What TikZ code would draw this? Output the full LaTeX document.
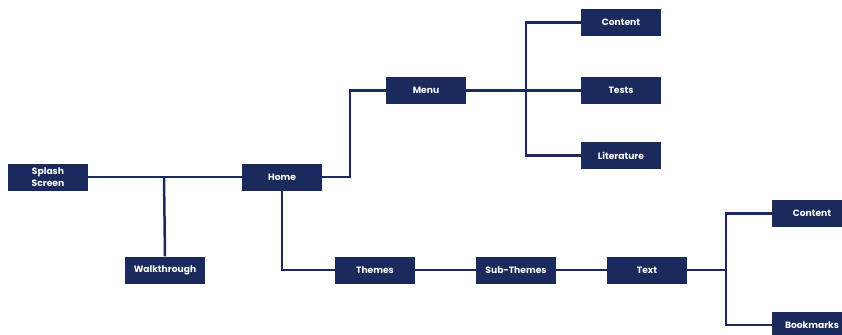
\documentclass[tikz,border=0pt]{standalone}
\usepackage{fontspec}
\setmainfont{Poppins}
\definecolor{navy}{HTML}{1B2A5C}
\begin{document}
\begin{tikzpicture}[x=1bp,y=-1bp,
  box/.style={fill=navy,draw=none,minimum width=80bp,minimum height=27bp,inner sep=0pt,
    text=white,font=\fontsize{9.2}{12.5}\selectfont\bfseries,align=center},
  link/.style={draw=navy,line width=2.5bp}]
\useasboundingbox (0,0) rectangle (842,334);
\clip (0,0) rectangle (842,334);
\node[box] (splash) at (48,177) {Splash\\Screen};
\node[box] (home) at (282,177) {Home};
\node[box] (walk) at (165,270) {Walkthrough};
\node[box] (menu) at (426,90.5) {Menu};
\node[box] (content) at (621,22.5) {Content};
\node[box] (tests) at (621,90.5) {Tests};
\node[box] (lit) at (621,155.5) {Literature};
\node[box] (themes) at (375,270) {Themes};
\node[box] (sub) at (516,270) {Sub-Themes};
\node[box] (text) at (647,270) {Text};
\node[box] (content2) at (812,213.5) {Content};
\node[box] (book) at (812,325) {Bookmarks};
\coordinate (j1) at (164,177);
\coordinate (j2) at (526,90.5);
\coordinate (j3) at (726,270);
\coordinate (j4) at (350,177);
\draw[link] (splash.east) -- (home.west);
\draw[link] (j1) -- (walk.north);
\draw[link] (home.east) -- (j4) |- (menu.west);
\draw[link] (menu.east) -- (tests.west);
\draw[link] (j2) |- (content.west);
\draw[link] (j2) |- (lit.west);
\draw[link] (home.south) |- (themes.west);
\draw[link] (themes.east) -- (sub.west);
\draw[link] (sub.east) -- (text.west);
\draw[link] (text.east) -- (j3);
\draw[link] (j3) |- (content2.west);
\draw[link] (j3) |- (book.west);
\end{tikzpicture}
\end{document}
